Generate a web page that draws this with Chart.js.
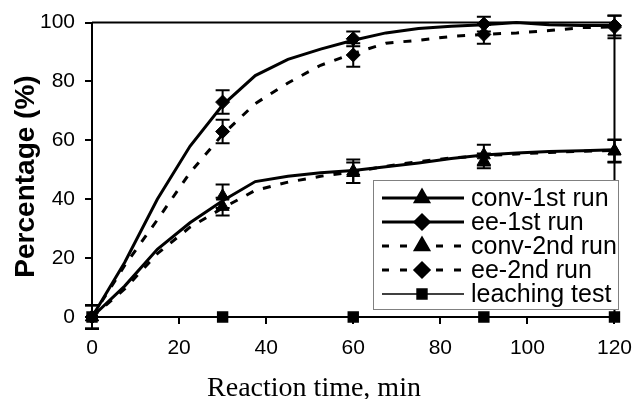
<!DOCTYPE html>
<html>
<head>
<meta charset="utf-8">
<script src="https://cdn.jsdelivr.net/npm/chart.js@4.4.1/dist/chart.umd.min.js"></script>
<style>
  html, body { margin: 0; padding: 0; background: #fff; }
  #wrap { width: 644px; height: 399px; }
</style>
</head>
<body>
<div id="wrap"><canvas id="c" width="644" height="399"></canvas></div>
<script>
// ---- Data ----
const xTicks = [0, 20, 40, 60, 80, 100, 120];
const yTicks = [0, 20, 40, 60, 80, 100];

// measured points (markers + error bars)
const sampleTimes = [0, 30, 60, 90, 120];
const conv1 = [0, 41, 49.5, 55, 56.5];
const ee1   = [0, 73, 94.5, 99.5, 99];
const conv2 = [0, 37.5, 49, 53, 56.3];
const ee2   = [0, 63, 89, 96, 98.5];
const leaching = [0, 0, 0, 0, 0];

const conv1Err = [4, 4, 4, 3.5, 3.8];
const ee1Err   = [4, 4, 2.5, 2.5, 3.4];
const conv2Err = [4, 3, 3.5, 2.5, 3.8];
const ee2Err   = [4, 4, 4, 3.2, 3.8];

// fitted curves
const fitTimes = [0, 7.5, 15, 22.5, 30, 37.5, 45, 52.5, 60, 67.5, 75, 82.5, 90, 97.5, 105, 112.5, 120];
const conv1Fit = [0, 10.5, 23, 32, 39.5, 46, 47.8, 49, 49.8, 51, 52.3, 53.8, 55, 55.7, 56.2, 56.5, 56.8];
const ee1Fit   = [0, 18.5, 40, 58, 72, 82, 87.5, 91, 94, 96.5, 98, 98.8, 99.3, 100, 99.3, 99, 99];
const conv2Fit = [0, 9.5, 21.5, 30.5, 37, 43, 45.8, 47.8, 49.3, 51.2, 52.8, 54, 54.8, 55.4, 55.9, 56.3, 56.6];
const ee2Fit   = [0, 17.5, 33, 49, 62, 72.5, 79.5, 85.5, 89.5, 93, 94, 95.3, 96, 96.5, 97.3, 98.3, 98.5];

const seriesNames = ['conv-1st run', 'ee-1st run', 'conv-2nd run', 'ee-2nd run', 'leaching test'];
const xTitle = 'Reaction time, min';
const yTitle = 'Percentage (%)';

// ---- helpers ----
const pts = (xs, ys) => xs.map((x, i) => ({ x: x, y: ys[i] }));
const SANS = '"Liberation Sans", Arial, sans-serif';
const SERIF = '"Liberation Serif", "Times New Roman", serif';
const DASH = [8, 10];

const styles = [
  { dash: [], marker: 'triangle', r: 7.5, lw: 3 },
  { dash: [], marker: 'rectRot', r: 7, lw: 3 },
  { dash: DASH, marker: 'triangle', r: 7.5, lw: 3 },
  { dash: DASH, marker: 'rectRot', r: 7, lw: 3 },
  { dash: [], marker: 'rect', r: 7, lw: 1.5 }
];

function curve(vals, st) {
  return { type: 'line', data: pts(fitTimes, vals), borderColor: '#000', borderWidth: st.lw,
    borderDash: st.dash, pointRadius: 0, tension: 0, fill: false, clip: false };
}
function markers(vals, errs, st) {
  return { type: 'line', data: pts(sampleTimes, vals), showLine: false, pointStyle: st.marker,
    pointRadius: st.r, pointBackgroundColor: '#000', pointBorderColor: '#000', pointBorderWidth: 1,
    errors: errs, clip: false };
}

const datasets = [
  curve(conv1Fit, styles[0]),
  curve(ee1Fit, styles[1]),
  curve(conv2Fit, styles[2]),
  curve(ee2Fit, styles[3]),
  { type: 'line', data: pts(sampleTimes, leaching), borderColor: '#000', borderWidth: 1.5,
    pointStyle: 'rect', pointRadius: 7, pointBackgroundColor: '#000', pointBorderColor: '#000',
    tension: 0, clip: false },
  markers(conv1, conv1Err, styles[0]),
  markers(ee1, ee1Err, styles[1]),
  markers(conv2, conv2Err, styles[2]),
  markers(ee2, ee2Err, styles[3])
];

const framePlugin = {
  id: 'frame',
  beforeDatasetsDraw(chart) {
    const { ctx, chartArea: a } = chart;
    ctx.save();
    ctx.strokeStyle = '#000';
    ctx.lineWidth = 2;
    ctx.beginPath();
    ctx.moveTo(a.left, a.top);
    ctx.lineTo(a.right, a.top);
    ctx.lineTo(a.right, a.bottom);
    ctx.stroke();
    ctx.restore();
  }
};

const errorPlugin = {
  id: 'errbars',
  afterDatasetsDraw(chart) {
    const { ctx } = chart;
    const xs = chart.scales.x, ys = chart.scales.y;
    ctx.save();
    ctx.strokeStyle = '#000';
    ctx.lineWidth = 2;
    chart.data.datasets.forEach(ds => {
      if (!ds.errors) return;
      ds.data.forEach((p, i) => {
        const e = ds.errors[i];
        const px = xs.getPixelForValue(p.x);
        const y1 = ys.getPixelForValue(p.y + e);
        const y2 = ys.getPixelForValue(p.y - e);
        ctx.beginPath();
        ctx.moveTo(px, y1); ctx.lineTo(px, y2);
        ctx.moveTo(px - 7, y1); ctx.lineTo(px + 7, y1);
        ctx.moveTo(px - 7, y2); ctx.lineTo(px + 7, y2);
        ctx.stroke();
      });
    });
    ctx.restore();
  }
};

function drawMarker(ctx, style, x, y, r) {
  Chart.helpers.drawPoint(ctx, { pointStyle: style, radius: r, borderWidth: 1, rotation: 0 }, x, y);
}

const legendPlugin = {
  id: 'customLegend',
  afterDraw(chart) {
    const { ctx } = chart;
    const box = { l: 373.5, t: 180.5, r: 618.5, b: 309.5 };
    ctx.save();
    ctx.fillStyle = '#fff';
    ctx.fillRect(box.l, box.t, box.r - box.l, box.b - box.t);
    ctx.strokeStyle = '#808080';
    ctx.lineWidth = 1;
    ctx.strokeRect(box.l, box.t, box.r - box.l, box.b - box.t);
    const rowY = [198, 222, 246, 270, 294];
    seriesNames.forEach((name, i) => {
      const st = styles[i];
      const y = rowY[i];
      ctx.strokeStyle = '#000';
      ctx.fillStyle = '#000';
      ctx.lineWidth = st.lw;
      ctx.setLineDash(st.dash.length ? [7, 11] : []);
      ctx.beginPath();
      ctx.moveTo(382, y); ctx.lineTo(464, y);
      ctx.stroke();
      ctx.setLineDash([]);
      drawMarker(ctx, st.marker, 422, y, st.r);
      ctx.fillStyle = '#000';
      ctx.font = '25px ' + SANS;
      ctx.textAlign = 'left';
      ctx.textBaseline = 'middle';
      ctx.fillText(name, 471, y + 1);
    });
    ctx.restore();
  }
};

const titlePlugin = {
  id: 'axisTitles',
  afterDraw(chart) {
    const { ctx } = chart;
    ctx.save();
    ctx.fillStyle = '#000';
    ctx.font = '28px ' + SERIF;
    ctx.textAlign = 'center';
    ctx.textBaseline = 'alphabetic';
    ctx.fillText(xTitle, 314, 396);
    ctx.translate(33.5, 176.5);
    ctx.rotate(-Math.PI / 2);
    ctx.font = 'bold 28px ' + SANS;
    ctx.fillText(yTitle, 0, 0);
    ctx.restore();
  }
};

new Chart(document.getElementById('c'), {
  type: 'line',
  data: { datasets: datasets },
  options: {
    responsive: false,
    animation: false,
    devicePixelRatio: 1,
    layout: { padding: { left: 0, top: 22, right: 21, bottom: 0 } },
    plugins: { legend: { display: false }, tooltip: { enabled: false } },
    scales: {
      x: {
        type: 'linear', min: xTicks[0], max: xTicks[xTicks.length - 1],
        afterBuildTicks: s => { s.ticks = xTicks.map(v => ({ value: v })); },
        afterFit: s => { s.height = 82; },
        grid: { drawOnChartArea: false, drawTicks: true, tickLength: 7, color: '#000', lineWidth: 2 },
        border: { display: true, color: '#000', width: 2 },
        ticks: { color: '#000', font: { family: SANS, size: 21 }, padding: 12, maxRotation: 0 }
      },
      y: {
        type: 'linear', min: yTicks[0], max: yTicks[yTicks.length - 1],
        afterBuildTicks: s => { s.ticks = yTicks.map(v => ({ value: v })); },
        afterFit: s => { s.width = 92; },
        grid: { drawOnChartArea: false, drawTicks: true, tickLength: 7, color: '#000', lineWidth: 2 },
        border: { display: true, color: '#000', width: 2 },
        ticks: { color: '#000', font: { family: SANS, size: 21 }, padding: 10 }
      }
    }
  },
  plugins: [framePlugin, errorPlugin, legendPlugin, titlePlugin]
});
</script>
</body>
</html>
